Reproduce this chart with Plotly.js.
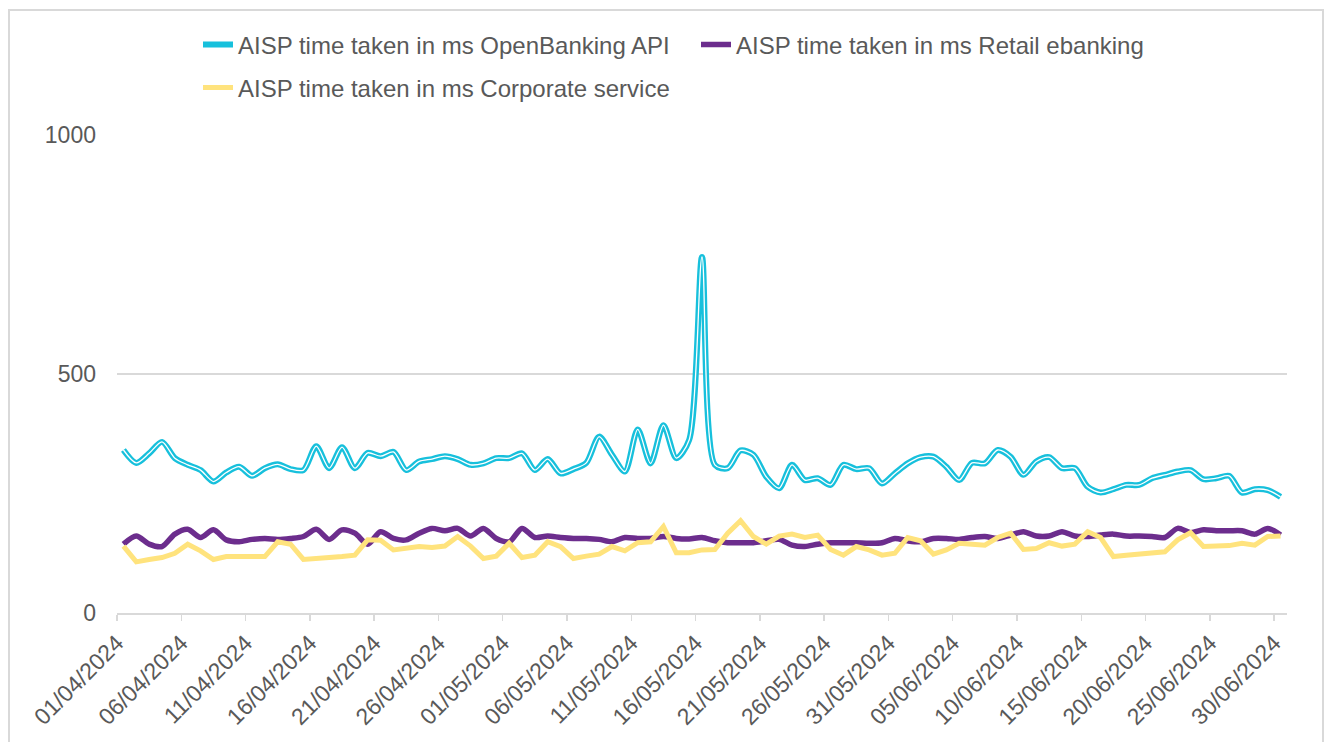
<!DOCTYPE html>
<html>
<head>
<meta charset="utf-8">
<script src="https://cdn.plot.ly/plotly-3.0.1.min.js"></script>
<style>
  html, body { margin: 0; padding: 0; background: #ffffff; }
  #chart { position: absolute; left: 0; top: 0; width: 1333px; height: 742px; }
  #frame { position: absolute; left: 8px; top: 9px; width: 1316px; height: 800px;
           border: 2px solid #d9d9d9; pointer-events: none; box-sizing: border-box; }
</style>
</head>
<body>
<div id="chart"></div>
<div id="frame"></div>
<script>
// ---- data ----
const startDate = '2024-04-01';
const dayCount = 91;

const tickLabels = ['01/04/2024','06/04/2024','11/04/2024','16/04/2024','21/04/2024','26/04/2024',
  '01/05/2024','06/05/2024','11/05/2024','16/05/2024','21/05/2024','26/05/2024','31/05/2024',
  '05/06/2024','10/06/2024','15/06/2024','20/06/2024','25/06/2024','30/06/2024'];

const openBanking = [
  341,314,334,358,324,310,299,275,294,306,287,303,311,301,299,349,303,347,303,335,
  328,337,299,317,322,328,322,310,313,324,324,334,299,322,292,301,314,369,331,296,
  384,313,393,324,362,745,310,303,340,331,285,261,310,278,282,268,310,301,303,271,
  292,313,326,327,306,278,314,313,341,327,289,317,326,303,303,264,252,259,268,268,
  282,289,296,299,280,282,287,252,259,257,243];

const retail = [
  144,161,144,139,165,175,158,174,153,149,154,156,154,156,160,175,154,174,167,144,
  170,156,153,167,177,172,177,161,177,156,149,177,158,161,158,156,156,154,149,158,
  156,156,160,156,155,158,151,147,147,147,151,154,142,139,144,147,147,147,146,147,
  156,151,149,156,156,154,158,160,156,163,170,161,161,170,161,160,163,165,161,161,
  160,158,177,168,174,172,172,172,165,177,163];

const corporate = [
  140,107,112,116,125,144,130,112,118,118,118,118,149,144,112,115,116,118,121,153,
  152,132,136,139,137,140,160,140,114,119,146,116,121,149,139,114,119,123,139,130,
  147,149,181,126,126,132,133,167,193,160,144,161,165,158,163,133,121,139,132,121,
  125,158,151,123,132,146,144,142,158,167,133,135,147,140,144,170,158,118,121,123,
  125,128,153,168,139,141,141,146,142,160,161];

const seriesNames = [
  'AISP time taken in ms OpenBanking API',
  'AISP time taken in ms Retail ebanking',
  'AISP time taken in ms Corporate service'
];

// ---- build x values (noon of each day) ----
function addDays(iso, n, hour) {
  const d = new Date(iso + 'T00:00:00Z');
  d.setUTCDate(d.getUTCDate() + n);
  const p = v => String(v).padStart(2, '0');
  return d.getUTCFullYear() + '-' + p(d.getUTCMonth() + 1) + '-' + p(d.getUTCDate()) +
         (hour ? ' ' + p(hour) + ':00' : '');
}
const xDates = [];
for (let i = 0; i < dayCount; i++) xDates.push(addDays(startDate, i, 12));
const tickVals = tickLabels.map(t => {
  const [dd, mm, yy] = t.split('/');
  return yy + '-' + mm + '-' + dd;
});

const fontFam = 'Liberation Sans, Arial, sans-serif';
const textCol = '#595959';
const gridCol = '#d9d9d9';

const traces = [
  { x: xDates, y: openBanking, name: seriesNames[0], mode: 'lines', legend: 'legend',
    line: { color: '#17c0dc', width: 6, shape: 'spline', smoothing: 0.8 } },
  { x: xDates, y: openBanking, name: seriesNames[0], mode: 'lines', showlegend: false,
    hoverinfo: 'skip', line: { color: '#ffffff', width: 1.3, shape: 'spline', smoothing: 0.8 } },
  { x: xDates, y: retail, name: seriesNames[1], mode: 'lines', legend: 'legend2',
    line: { color: '#6c2d8d', width: 5.5, shape: 'spline', smoothing: 0.8 } },
  { x: xDates, y: corporate, name: seriesNames[2], mode: 'lines', legend: 'legend3',
    line: { color: '#ffe37d', width: 5 } }
];

const legendBase = {
  orientation: 'h', xref: 'container', yref: 'container', xanchor: 'left', yanchor: 'middle',
  font: { family: fontFam, size: 24, color: textCol }, bgcolor: 'rgba(0,0,0,0)', itemwidth: 30
};

const layout = {
  width: 1333, height: 742,
  margin: { l: 117, r: 46, t: 135, b: 129 },
  paper_bgcolor: '#ffffff', plot_bgcolor: '#ffffff',
  font: { family: fontFam, size: 23, color: textCol },
  showlegend: true,
  legend: Object.assign({}, legendBase, { x: 198 / 1333, y: 1 - 45 / 742 }),
  legend2: Object.assign({}, legendBase, { x: 696 / 1333, y: 1 - 45 / 742 }),
  legend3: Object.assign({}, legendBase, { x: 198 / 1333, y: 1 - 88 / 742 }),
  xaxis: {
    type: 'date', range: ['2024-04-01', '2024-07-01'],
    tickmode: 'array', tickvals: tickVals, ticktext: tickLabels, tickangle: -45,
    ticks: 'outside', ticklen: 6, tickcolor: gridCol, tickwidth: 1.5,
    showline: true, linecolor: gridCol, linewidth: 1.5,
    showgrid: false, zeroline: false,
    tickfont: { family: fontFam, size: 23, color: textCol }
  },
  yaxis: {
    range: [0, 1000], tickmode: 'array', tickvals: [0, 500, 1000],
    showgrid: true, gridcolor: gridCol, gridwidth: 1.5, zeroline: false, showline: false,
    ticks: '', ticklabelstandoff: 20,
    tickfont: { family: fontFam, size: 23, color: textCol }
  }
};

Plotly.newPlot('chart', traces, layout, { displayModeBar: false, staticPlot: true });
</script>
</body>
</html>
